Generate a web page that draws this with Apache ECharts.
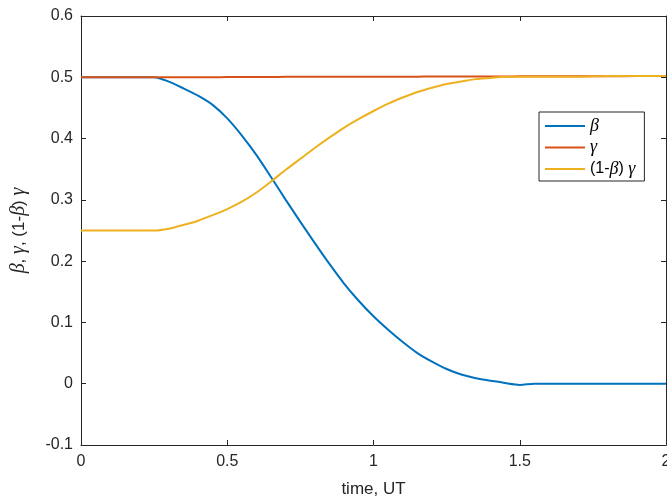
<!DOCTYPE html>
<html>
<head>
<meta charset="utf-8">
<script src="https://cdn.jsdelivr.net/npm/echarts@6/dist/echarts.min.js"></script>
<style>html,body{margin:0;padding:0;background:#fff}#c{width:667px;height:503px}</style>
</head>
<body>
<div id="c"></div>
<script>
var time = [0, 0.1, 0.2, 0.25, 0.3, 0.35, 0.4, 0.45, 0.5, 0.55, 0.6, 0.65, 0.7, 0.75, 0.8, 0.85, 0.9, 0.95, 1.0, 1.05, 1.1, 1.15, 1.2, 1.25, 1.3, 1.35, 1.4, 1.45, 1.5, 1.55, 1.6, 1.7, 1.8, 1.9, 2.0];
var betaVals = [0.5, 0.5, 0.5, 0.5, 0.493, 0.482, 0.470, 0.455, 0.433, 0.405, 0.373, 0.337, 0.300, 0.264, 0.229, 0.195, 0.163, 0.135, 0.110, 0.088, 0.068, 0.050, 0.036, 0.024, 0.015, 0.009, 0.005, 0.001, -0.002, 0.000, 0.000, 0.000, 0.000, 0.000, 0.000];
var gammaVals = [0.5, 0.5, 0.5, 0.5, 0.5, 0.5, 0.5, 0.5, 0.5005, 0.5005, 0.5005, 0.5005, 0.5008, 0.5008, 0.5008, 0.5008, 0.501, 0.501, 0.501, 0.501, 0.501, 0.501, 0.5012, 0.5012, 0.5013, 0.5013, 0.5014, 0.5014, 0.5015, 0.5015, 0.5016, 0.5017, 0.5018, 0.5019, 0.502];
var ombgVals = [0.25, 0.25, 0.25, 0.25, 0.253, 0.259, 0.266, 0.275, 0.285, 0.297, 0.312, 0.330, 0.349, 0.367, 0.385, 0.402, 0.418, 0.432, 0.445, 0.457, 0.467, 0.476, 0.483, 0.489, 0.493, 0.497, 0.499, 0.501, 0.501, 0.501, 0.501, 0.501, 0.502, 0.502, 0.502];
var xTicks = [0, 0.5, 1, 1.5, 2];
var yTicks = [-0.1, 0, 0.1, 0.2, 0.3, 0.4, 0.5, 0.6];
var seriesNames = ['beta', 'gamma', 'ombg'];

function pairs(v) { return time.map(function (t, i) { return [t, v[i]]; }); }

var axisColor = '#262626';
var rich = {
  g: { fontFamily: 'Liberation Serif', fontStyle: 'italic', fontSize: 18, color: '#000', lineHeight: 18 },
  n: { fontFamily: 'Liberation Sans', fontSize: 16, color: '#000', lineHeight: 18 }
};
var legendText = {
  beta: '{g|β}',
  gamma: '{g|γ}',
  ombg: '{n|(1-}{g|β}{n|) }{g|γ}'
};

var chart = echarts.init(document.getElementById('c'), null, { renderer: 'canvas' });
var axisCommon = {
  axisLine: { show: true, onZero: false, lineStyle: { color: axisColor, width: 1 } },
  axisTick: { show: true, inside: true, length: 5, lineStyle: { color: axisColor } },
  splitLine: { show: false },
  minorTick: { show: false }
};
chart.setOption({
  animation: false,
  backgroundColor: '#fff',
  grid: { left: 81, top: 16, right: 1, bottom: 58, containLabel: false, outerBoundsMode: 'none' },
  legend: {
    orient: 'vertical',
    left: 539,
    top: 112,
    data: seriesNames,
    icon: 'rect',
    itemWidth: 40,
    itemHeight: 2,
    itemGap: 3.5,
    padding: [5, 9, 3, 6],
    borderColor: axisColor,
    borderWidth: 1,
    borderRadius: 0,
    backgroundColor: '#fff',
    formatter: function (name) { return legendText[name]; },
    textStyle: { rich: rich }
  },
  xAxis: [
    Object.assign({
      type: 'value', min: xTicks[0], max: xTicks[xTicks.length - 1], interval: 0.5,
      position: 'bottom',
      name: 'time, UT', nameLocation: 'middle', nameGap: 36,
      nameTextStyle: { fontFamily: 'Liberation Sans', fontSize: 17, color: axisColor },
      axisLabel: { fontFamily: 'Liberation Sans', fontSize: 16, color: axisColor, margin: 9 }
    }, axisCommon),
    Object.assign({
      type: 'value', min: xTicks[0], max: xTicks[xTicks.length - 1], interval: 0.5,
      position: 'top', axisLabel: { show: false }
    }, axisCommon)
  ],
  yAxis: [
    Object.assign({
      type: 'value', min: yTicks[0], max: yTicks[yTicks.length - 1], interval: 0.1,
      position: 'left',
      name: '{g|β}{n|, }{g|γ}{n|, (1-}{g|β}{n|) }{g|γ}',
      nameLocation: 'middle', nameGap: 52, nameRotate: 90,
      nameTextStyle: { rich: {
        g: { fontFamily: 'Liberation Serif', fontStyle: 'italic', fontSize: 20, color: axisColor },
        n: { fontFamily: 'Liberation Sans', fontSize: 17, color: axisColor }
      } },
      axisLabel: { fontFamily: 'Liberation Sans', fontSize: 16, color: axisColor, margin: 8,
        formatter: function (v) { return String(Math.round(v * 10) / 10); } }
    }, axisCommon),
    Object.assign({
      type: 'value', min: yTicks[0], max: yTicks[yTicks.length - 1], interval: 0.1,
      position: 'right', axisLabel: { show: false }
    }, axisCommon)
  ],
  series: [
    { name: 'beta', type: 'line', data: pairs(betaVals), symbol: 'none', smooth: 0.25,
      lineStyle: { color: '#0072BD', width: 2 }, itemStyle: { color: '#0072BD' }, z: 3 },
    { name: 'gamma', type: 'line', data: pairs(gammaVals), symbol: 'none', smooth: 0.25,
      lineStyle: { color: '#D95319', width: 2 }, itemStyle: { color: '#D95319' }, z: 4 },
    { name: 'ombg', type: 'line', data: pairs(ombgVals), symbol: 'none', smooth: 0.25,
      lineStyle: { color: '#EDB120', width: 2 }, itemStyle: { color: '#EDB120' }, z: 5 }
  ]
});
</script>
</body>
</html>
